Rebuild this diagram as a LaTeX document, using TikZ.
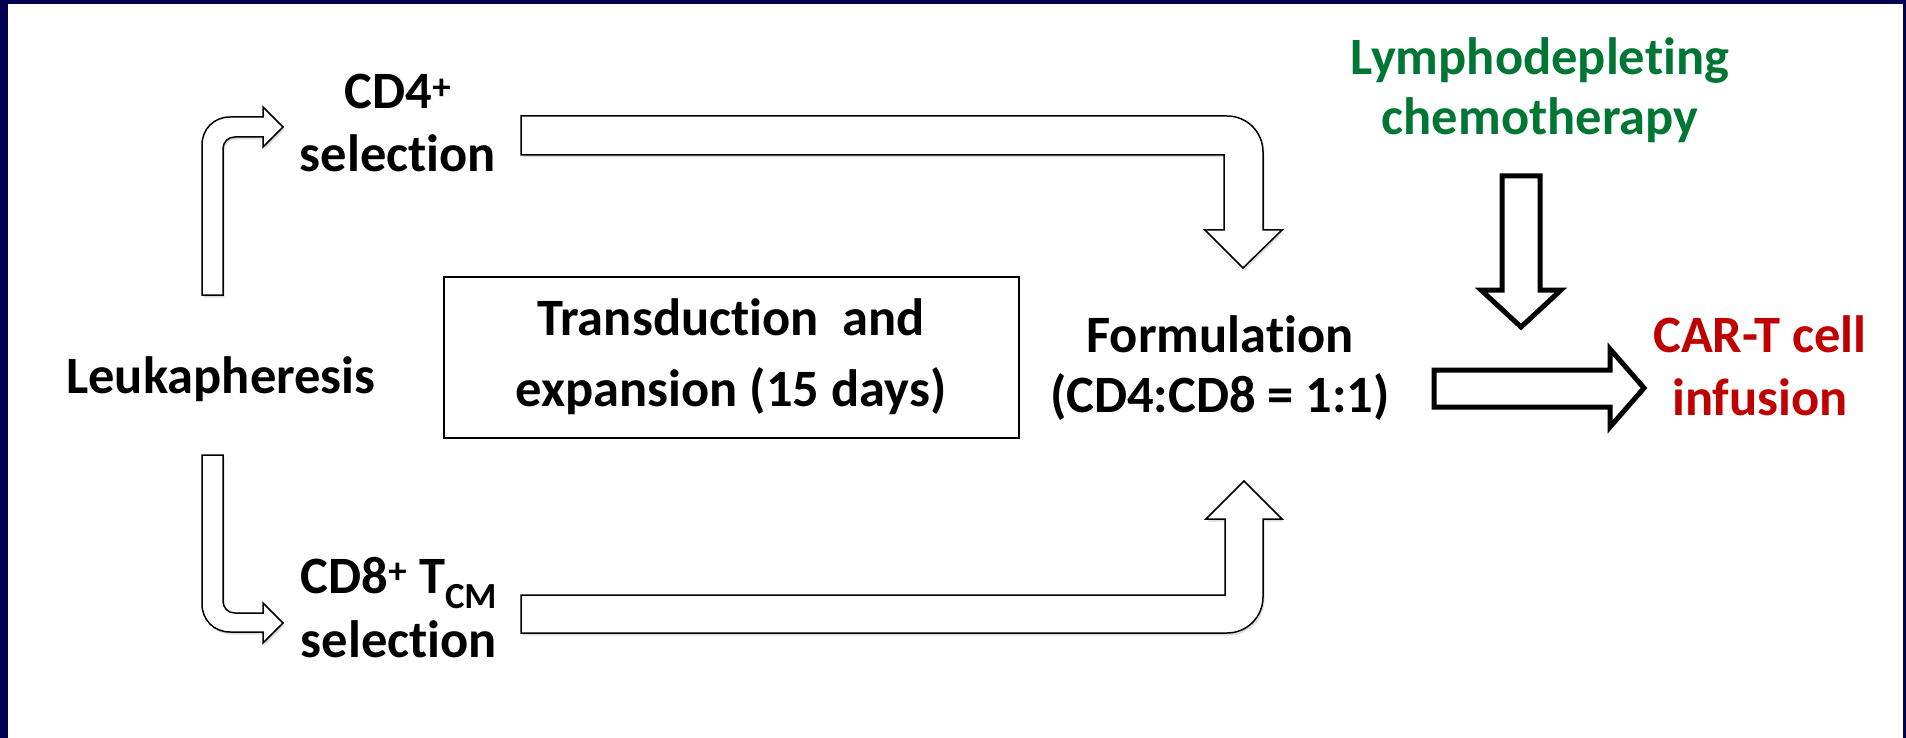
\documentclass[tikz,border=0pt]{standalone}
\usepackage{fontspec}
\setmainfont{Carlito}[Ligatures=NoCommon]
\usetikzlibrary{shadows}
\definecolor{navy}{RGB}{2,2,80}
\definecolor{lgreen}{RGB}{0,118,52}
\definecolor{cred}{RGB}{192,0,0}
\tikzset{
 lbl/.style={font=\fontsize{52.5}{63}\selectfont\bfseries, align=center, inner sep=0pt, anchor=base},
 blockarrow/.style={draw=black, fill=white, line width=1.5pt, line join=miter,
   drop shadow={shadow xshift=1.5pt, shadow yshift=-2.5pt, opacity=0.25}},
 boldarrow/.style={draw=black, fill=white, line width=5pt, line join=miter},
 boxstyle/.style={draw=black, line width=1.5pt},
}
\begin{document}
\begin{tikzpicture}[x=1pt,y=-1pt]
\fill[navy] (0,0) rectangle (1906,738);
\fill[white] (8,4) rectangle (1903,738);
\useasboundingbox (0,0) rectangle (1906,738);

% labels (anchor = baseline of last line)
\node[lbl] (leuk) at (221,393) {Leukapheresis};
\node[lbl] (cd4) at (398,172) {CD4\textsuperscript{+}\\selection};
\node[lbl, font=\fontsize{52.5}{64}\selectfont\bfseries] (cd8) at (399,657) {CD8\textsuperscript{+} T\textsubscript{CM}\\selection};
\draw[boxstyle] (444,277) rectangle (1019,438);
\node[lbl, font=\fontsize{52.5}{71}\selectfont\bfseries] (trans) at (731,406) {Transduction\ \ and\\expansion (15 days)};
\node[lbl, font=\fontsize{52.5}{60}\selectfont\bfseries] (form) at (1220,412) {Formulation\\(CD4:CD8 = 1:1)};
\node[lbl, text=lgreen, font=\fontsize{52.5}{60}\selectfont\bfseries] (lymph) at (1540,135) {Lymphodepleting\\chemotherapy};
\node[lbl, text=cred] (cart) at (1760,415) {CAR-T cell\\infusion};

% upper-left bent arrow
\draw[blockarrow] (202,295) -- (202,145) .. controls (202,129) and (214,117) .. (230,117)
  -- (263,117) -- (263,107) -- (283,127) -- (263,147) -- (263,137) -- (235,137)
  .. controls (228,137) and (223,142) .. (223,149) -- (223,295) -- cycle;
% lower-left bent arrow
\draw[blockarrow] (202,455) -- (202,604) .. controls (202,620) and (214,632) .. (230,632)
  -- (263,632) -- (263,643) -- (283,623) -- (263,603) -- (263,613) -- (235,613)
  .. controls (228,613) and (223,608) .. (223,601) -- (223,455) -- cycle;
% upper long arrow
\draw[blockarrow] (521,116) -- (1227,116) .. controls (1247,116) and (1263,132) .. (1263,152)
  -- (1263,230) -- (1282,230) -- (1243,268) -- (1205,230) -- (1224,230) -- (1224,155) -- (521,155) -- cycle;
% lower long arrow
\draw[blockarrow] (521,633) -- (1227,633) .. controls (1247,633) and (1263,617) .. (1263,597)
  -- (1263,519) -- (1282,519) -- (1244,481) -- (1206,519) -- (1225,519) -- (1225,595) -- (521,595) -- cycle;
% lymphodepleting down arrow
\draw[boldarrow] (1502,176) -- (1540,176) -- (1540,290) -- (1561,290) -- (1521,327) -- (1481,290) -- (1502,290) -- cycle;
% infusion arrow
\draw[boldarrow] (1434,370) -- (1610,370) -- (1610,349) -- (1644,388) -- (1610,427) -- (1610,407) -- (1434,407) -- cycle;
\end{tikzpicture}
\end{document}
